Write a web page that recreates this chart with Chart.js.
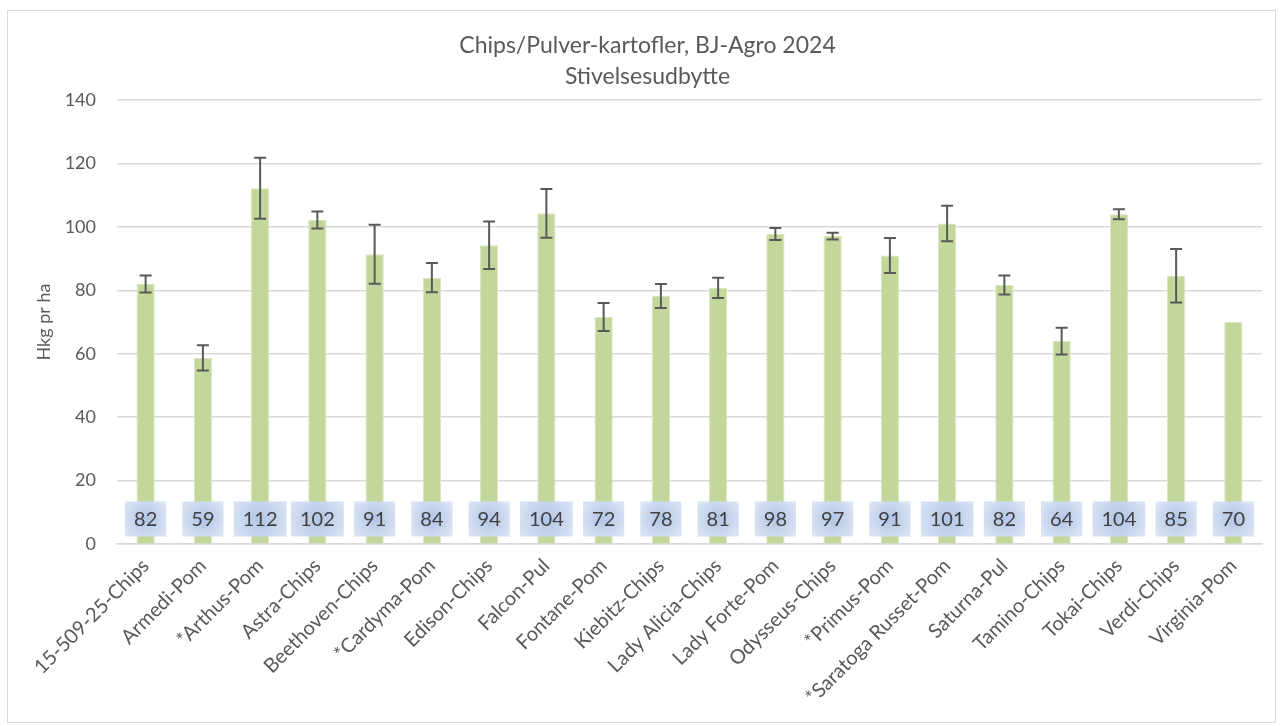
<!DOCTYPE html>
<html>
<head>
<meta charset="utf-8">
<script src="https://cdn.jsdelivr.net/npm/chart.js@4"></script>
<style>
  html, body { margin: 0; padding: 0; background: #fff; }
  #wrap { position: relative; width: 1282px; height: 726px; }
  #frame { position: absolute; left: 7px; top: 10px; width: 1267px; height: 711px; border: 1px solid #d9d9d9; }
  #chart { position: absolute; left: 0; top: 0; }
</style>
</head>
<body>
<div id="wrap">
  <div id="frame"></div>
  <canvas id="chart" width="1282" height="726"></canvas>
</div>
<script>
// sorter
const varieties = [
  '15-509-25-Chips', 'Armedi-Pom', '*Arthus-Pom', 'Astra-Chips', 'Beethoven-Chips',
  '*Cardyma-Pom', 'Edison-Chips', 'Falcon-Pul', 'Fontane-Pom', 'Kiebitz-Chips',
  'Lady Alicia-Chips', 'Lady Forte-Pom', 'Odysseus-Chips', '*Primus-Pom',
  '*Saratoga Russet-Pom', 'Saturna-Pul', 'Tamino-Chips', 'Tokai-Chips',
  'Verdi-Chips', 'Virginia-Pom'
];

// stivelsesudbytte, hkg pr ha
const starchYield = [82, 58.7, 112.2, 102.2, 91.4, 84, 94.2, 104.3, 71.6, 78.2,
  80.8, 97.8, 97.1, 91, 101.1, 81.7, 64, 104, 84.6, 70];

// +/- spredning (Virginia uden fejlstreg)
const yieldError = [2.7, 4.0, 9.6, 2.7, 9.3, 4.6, 7.5, 7.7, 4.4, 3.8,
  3.2, 1.9, 1.1, 5.5, 5.6, 3.0, 4.2, 1.6, 8.4, null];

const yTicks = [0, 20, 40, 60, 80, 100, 120, 140];

const FONT = 'Lato, "Open Sans", sans-serif';

// fejlstreger
const errorBars = {
  id: 'errorBars',
  afterDatasetsDraw(chart) {
    const ctx = chart.ctx;
    const y = chart.scales.y;
    const meta = chart.getDatasetMeta(0);
    ctx.save();
    ctx.strokeStyle = '#595959';
    ctx.lineWidth = 2;
    meta.data.forEach((bar, i) => {
      const err = yieldError[i];
      if (err == null) return;
      const top = y.getPixelForValue(starchYield[i] + err);
      const bot = y.getPixelForValue(starchYield[i] - err);
      ctx.beginPath();
      ctx.moveTo(bar.x, top); ctx.lineTo(bar.x, bot);
      ctx.moveTo(bar.x - 6, top); ctx.lineTo(bar.x + 6, top);
      ctx.moveTo(bar.x - 6, bot); ctx.lineTo(bar.x + 6, bot);
      ctx.stroke();
    });
    ctx.restore();
  }
};

// værdi-bokse i bunden
const valueBoxes = {
  id: 'valueBoxes',
  afterDatasetsDraw(chart) {
    const ctx = chart.ctx;
    const y = chart.scales.y;
    const meta = chart.getDatasetMeta(0);
    ctx.save();
    ctx.font = '20px ' + FONT;
    ctx.textAlign = 'center';
    ctx.textBaseline = 'middle';
    meta.data.forEach((bar, i) => {
      const txt = String(Math.round(starchYield[i]));
      const w = ctx.measureText(txt).width + 18;
      const h = 35;
      const cy = y.getPixelForValue(0) - 25;
      const x0 = bar.x - w / 2, y0 = cy - h / 2;
      const g = ctx.createRadialGradient(bar.x, cy, 2, bar.x, cy, w * 0.62);
      g.addColorStop(0, '#b4c7e7');
      g.addColorStop(1, '#dde6f4');
      ctx.fillStyle = g;
      ctx.fillRect(x0, y0, w, h);
      ctx.fillStyle = '#404040';
      ctx.fillText(txt, bar.x, cy + 1);
    });
    ctx.restore();
  }
};

new Chart(document.getElementById('chart'), {
  type: 'bar',
  data: {
    labels: varieties,
    datasets: [{
      data: starchYield,
      backgroundColor: '#c4d79b',
      borderColor: '#dbe7c2',
      borderWidth: 1,
      barPercentage: 0.32,
      categoryPercentage: 1
    }]
  },
  options: {
    responsive: false,
    animation: false,
    layout: { padding: { left: 33, right: 20, top: 30, bottom: 0 } },
    plugins: {
      legend: { display: false },
      tooltip: { enabled: false },
      title: {
        display: true,
        text: ['Chips/Pulver-kartofler, BJ-Agro 2024', 'Stivelsesudbytte'],
        color: '#595959',
        font: { family: FONT, size: 23, weight: 'normal', lineHeight: 1.35 },
        padding: { top: 0, bottom: 8 }
      }
    },
    scales: {
      x: {
        grid: { display: false },
        border: { display: true, color: '#d9d9d9', width: 1.5 },
        ticks: {
          color: '#595959',
          font: { family: FONT, size: 20 },
          maxRotation: 45, minRotation: 45,
          padding: 2
        },
        afterFit(scale) { scale.height = 182; }
      },
      y: {
        min: 0, max: 140,
        afterBuildTicks(scale) { scale.ticks = yTicks.map(v => ({ value: v })); },
        grid: { color: '#d9d9d9', lineWidth: 1.5, drawTicks: false },
        border: { display: false },
        ticks: {
          color: '#595959',
          font: { family: FONT, size: 18 },
          padding: 21
        },
        title: {
          display: true,
          text: 'Hkg pr ha',
          color: '#595959',
          font: { family: FONT, size: 18 },
          padding: { top: 0, bottom: 0 }
        },
        afterFit(scale) { scale.width = 84; }
      }
    }
  },
  plugins: [valueBoxes, errorBars]
});
</script>
</body>
</html>
